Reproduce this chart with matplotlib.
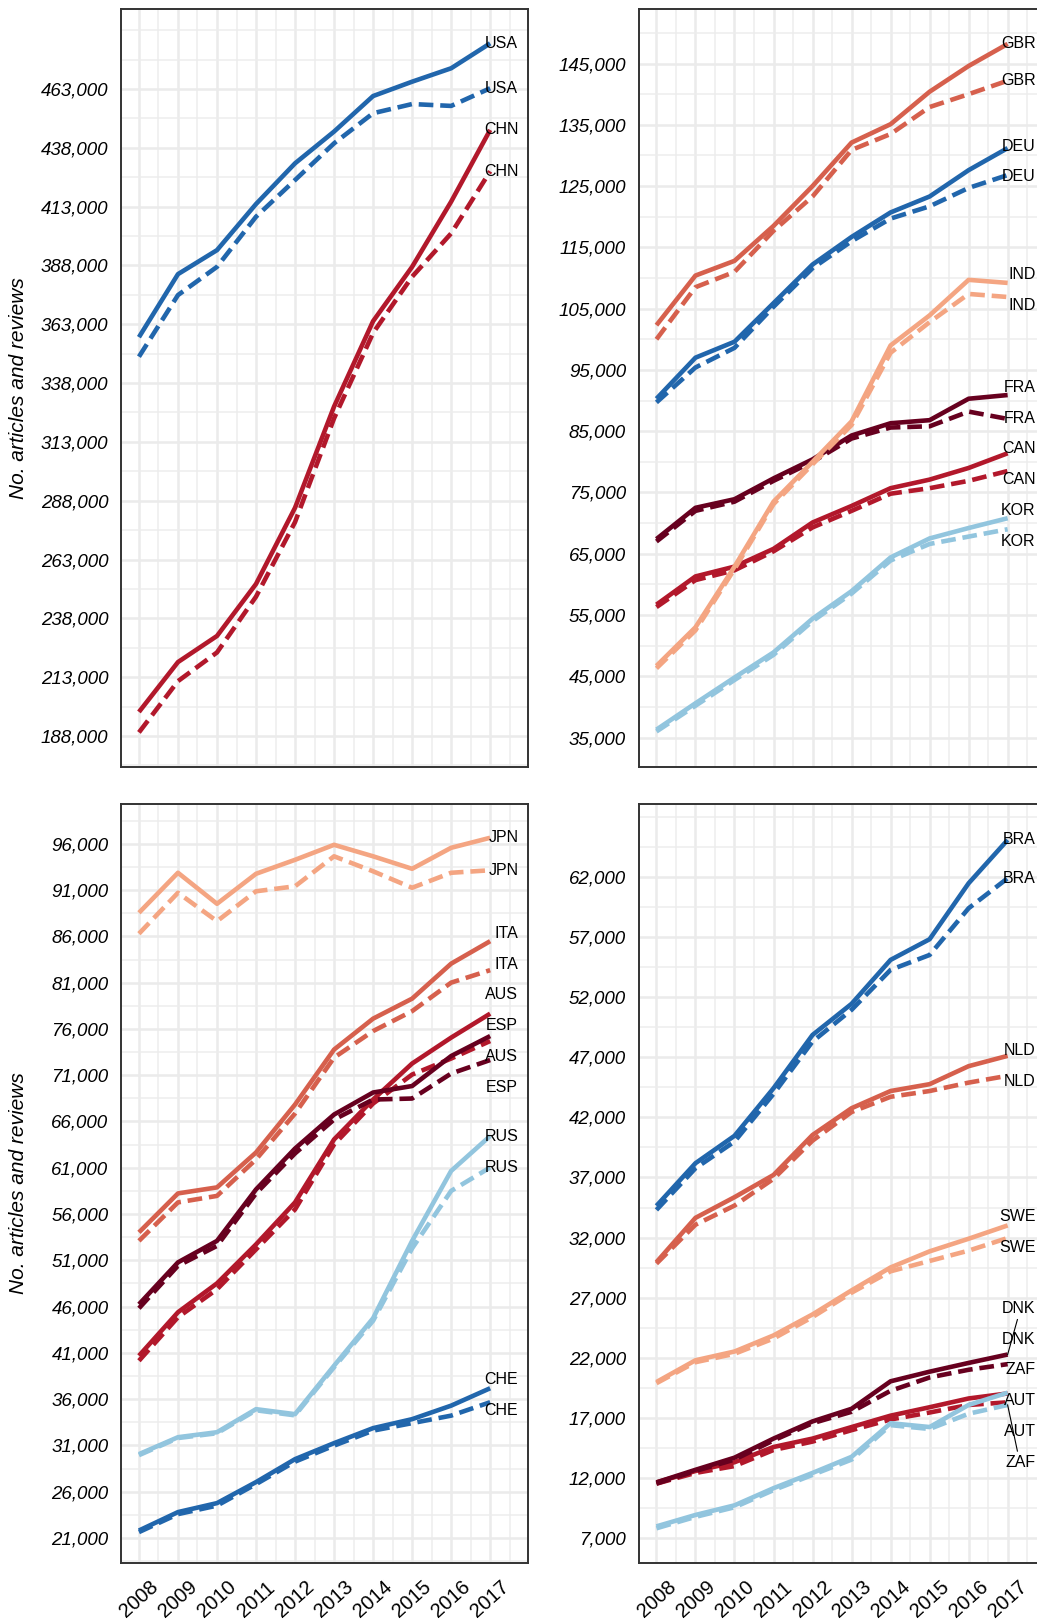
import numpy as np
import matplotlib.pyplot as plt
from matplotlib.ticker import FixedLocator, FuncFormatter

plt.rcParams['font.family'] = ['Liberation Sans', 'DejaVu Sans']

years = np.arange(2008, 2018)

# ---- data: solid = first series, dashed = second series ----
tl_solid = {
    'CHN': [198200, 219400, 230500, 252600, 285000, 328000, 364300, 387400, 415100, 445600],
    'USA': [357500, 384300, 394500, 414100, 431400, 444900, 460000, 466100, 471800, 482400],
}
tl_dashed = {
    'CHN': [189500, 211300, 223500, 247200, 278900, 323000, 359300, 383200, 401600, 428000],
    'USA': [349200, 375400, 387400, 408700, 424300, 439900, 452700, 456600, 455800, 463300],
}

tr_solid = {
    'CAN': [56700, 61300, 62900, 65800, 70100, 72800, 75700, 77100, 79000, 81400],
    'DEU': [90300, 97000, 99600, 105900, 112200, 116700, 120700, 123300, 127600, 131200],
    'FRA': [67400, 72500, 73900, 77300, 80400, 84300, 86300, 86800, 90300, 90900],
    'GBR': [102300, 110400, 112800, 118500, 125000, 132100, 135100, 140400, 144600, 148200],
    'IND': [46700, 53000, 62900, 73500, 80000, 86600, 99000, 103900, 109700, 109200],
    'KOR': [36300, 40600, 44800, 48900, 54400, 58900, 64400, 67500, 69200, 70800],
}
tr_dashed = {
    'CAN': [56300, 60700, 62300, 65400, 69300, 72000, 74800, 75700, 76900, 78500],
    'DEU': [89700, 95400, 98600, 105300, 111600, 116000, 119700, 121700, 124700, 126800],
    'FRA': [67000, 72000, 73500, 76900, 80000, 83800, 85600, 85800, 88200, 87000],
    'GBR': [100000, 108500, 111000, 117700, 123300, 130900, 133500, 137900, 140000, 142200],
    'IND': [46300, 52500, 62500, 73100, 79600, 86000, 97800, 102800, 107400, 106900],
    'KOR': [36000, 40200, 44400, 48500, 54000, 58500, 63900, 66600, 67800, 69000],
}

bl_solid = {
    'AUS': [40690, 45390, 48510, 52720, 57260, 64060, 68370, 72260, 75060, 77650],
    'CHE': [21810, 23800, 24770, 27040, 29520, 31250, 32870, 33840, 35300, 37180],
    'ESP': [46250, 50780, 53100, 58660, 63080, 66750, 69130, 69830, 73070, 75230],
    'ITA': [54020, 58230, 58880, 62650, 67830, 73770, 77110, 79270, 83050, 85480],
    'JPN': [88550, 92870, 89520, 92760, 94270, 95890, 94650, 93300, 95570, 96650],
    'RUS': [30060, 31890, 32430, 34920, 34380, 39610, 44740, 53100, 60660, 64430],
}
bl_dashed = {
    'AUS': [40150, 44850, 47870, 52180, 56500, 63520, 67940, 71070, 72800, 74690],
    'CHE': [21640, 23580, 24500, 26820, 29250, 30980, 32600, 33410, 34220, 35670],
    'ESP': [45820, 50410, 52560, 58230, 62550, 66210, 68370, 68480, 71180, 72640],
    'ITA': [53100, 57260, 57960, 61900, 66860, 72900, 75770, 77920, 81000, 82350],
    'JPN': [86290, 90710, 87640, 90870, 91410, 94650, 93030, 91250, 92870, 93140],
    'RUS': [29950, 31800, 32320, 34800, 34250, 39450, 44470, 52290, 58500, 61030],
}

br_solid = {
    'AUT': [11610, 12560, 13290, 14560, 15260, 16220, 17170, 17870, 18600, 19020],
    'BRA': [34640, 38190, 40470, 44430, 48870, 51460, 55120, 56840, 61500, 65110],
    'DNK': [11610, 12660, 13670, 15260, 16690, 17740, 20030, 20830, 21560, 22260],
    'NLD': [29950, 33640, 35360, 37210, 40540, 42770, 44200, 44770, 46270, 47130],
    'SWE': [19970, 21780, 22510, 23850, 25600, 27600, 29510, 30850, 31900, 33010],
    'ZAF': [7950, 8900, 9700, 11130, 12400, 13740, 16540, 16220, 18060, 19080],
}
br_dashed = {
    'AUT': [11510, 12400, 12970, 14310, 15010, 15960, 16850, 17430, 18060, 18280],
    'BRA': [34300, 37770, 39990, 43960, 48320, 50960, 54290, 55530, 59420, 61920],
    'DNK': [11510, 12560, 13510, 15110, 16540, 17490, 19240, 20350, 20990, 21460],
    'NLD': [29830, 33070, 34660, 36890, 40070, 42450, 43720, 44200, 44900, 45470],
    'SWE': [19870, 21620, 22320, 23590, 25380, 27410, 29190, 30050, 30910, 31960],
    'ZAF': [7790, 8740, 9540, 10970, 12240, 13510, 16380, 16060, 17330, 18060],
}

tl_ticks = np.arange(188000, 463001, 25000)
tr_ticks = np.arange(35000, 145001, 10000)
bl_ticks = np.arange(21000, 96001, 5000)
br_ticks = np.arange(7000, 62001, 5000)

colors = {
    'USA': '#2166ac', 'CHN': '#b2182b',
    'GBR': '#d6604d', 'DEU': '#2166ac', 'IND': '#f4a582',
    'FRA': '#67001f', 'CAN': '#b2182b', 'KOR': '#92c5de',
    'JPN': '#f4a582', 'ITA': '#d6604d', 'AUS': '#b2182b',
    'ESP': '#67001f', 'RUS': '#92c5de', 'CHE': '#2166ac',
    'BRA': '#2166ac', 'NLD': '#d6604d', 'SWE': '#f4a582',
    'DNK': '#67001f', 'AUT': '#b2182b', 'ZAF': '#92c5de',
}

W, H = 1037, 1621
fig = plt.figure(figsize=(W / 100, H / 100), dpi=100)


def px_axes(x0, y0, w, h):
    return fig.add_axes([x0 / W, 1 - (y0 + h) / H, w / W, h / H])


def spread(y, gap):
    # push label positions apart, keeping each cluster centred on its points
    order = list(np.argsort(y))
    clusters = [[i] for i in order]

    def place(c):
        m = np.mean([y[i] for i in c])
        return [m + (k - (len(c) - 1) / 2) * gap for k in range(len(c))]

    merged = True
    while merged:
        merged = False
        for j in range(len(clusters) - 1):
            a, b = place(clusters[j]), place(clusters[j + 1])
            if b[0] - a[-1] < gap - 1e-9:
                clusters[j] = clusters[j] + clusters[j + 1]
                del clusters[j + 1]
                merged = True
                break
    out = np.zeros(len(y))
    for c in clusters:
        for i, p in zip(c, place(c)):
            out[i] = p
    return out


def panel(ax, solid, dashed, ticks, ylim, bottom_labels):
    step = ticks[1] - ticks[0]
    ax.set_xlim(2007.54, 2017.97)
    ax.set_ylim(*ylim)
    ax.xaxis.set_major_locator(FixedLocator(years))
    ax.xaxis.set_minor_locator(FixedLocator(np.arange(2007.5, 2018, 1.0)))
    ax.yaxis.set_major_locator(FixedLocator(ticks))
    ax.yaxis.set_minor_locator(FixedLocator(
        np.arange(ticks[0] - step, ticks[-1] + step + 1, step / 2)))
    ax.yaxis.set_major_formatter(FuncFormatter(lambda v, p: f'{v:,.0f}'))
    ax.grid(which='major', color='#ebebeb', lw=1.8)
    ax.grid(which='minor', color='#ededed', lw=1.1)
    ax.set_axisbelow(True)
    ax.tick_params(which='both', length=0)
    ax.tick_params(axis='y', pad=9, labelsize=13.5)
    for t in ax.get_yticklabels():
        t.set_fontstyle('italic')
    for s in ax.spines.values():
        s.set_color('#333333')
        s.set_linewidth(1.4)
    if bottom_labels:
        ax.tick_params(axis='x', pad=26, labelsize=14.5)
        for t in ax.get_xticklabels():
            t.set_rotation(42)
            t.set_ha('center')
            t.set_va('center')
    else:
        ax.tick_params(axis='x', labelbottom=False)

    for c in solid:
        ax.plot(years, solid[c], color=colors[c], lw=3.3, solid_capstyle='butt')
        ax.plot(years, dashed[c], color=colors[c], lw=3.3,
                dashes=(3.2, 1.5), dash_capstyle='butt')

    # country labels at the line ends
    names, ends = [], []
    for c in solid:
        names += [c, c]
        ends += [solid[c][-1], dashed[c][-1]]
    to_px = ax.transData
    y_px = np.array([to_px.transform((2017, v))[1] for v in ends])
    lab_px = spread(y_px, 30.7)
    inv = ax.transData.inverted()
    for name, v, yp, lp in zip(names, ends, y_px, lab_px):
        ly = inv.transform((0, lp))[1]
        ax.text(2017.72, ly, name, ha='right', va='center', fontsize=11.5,
                color='black')
        if abs(lp - yp) > 38:
            tip = lp + (11 if lp < yp else -11)
            ax.plot([2017, 2017.25], [v, inv.transform((0, tip))[1]],
                    color='black', lw=0.8)


ax_tl = px_axes(121, 9, 407, 758)
ax_tr = px_axes(638.5, 9, 407, 758)
ax_bl = px_axes(121, 804, 407, 759)
ax_br = px_axes(638.5, 804, 407, 759)

panel(ax_tl, tl_solid, tl_dashed, tl_ticks, (174800, 497000), False)
panel(ax_tr, tr_solid, tr_dashed, tr_ticks, (30200, 153900), False)
panel(ax_bl, bl_solid, bl_dashed, bl_ticks, (18300, 100300), True)
panel(ax_br, br_solid, br_dashed, br_ticks, (4900, 68100), True)

for yc in (388, 1183):
    fig.text(19 / W, 1 - yc / H, 'No. articles and reviews', rotation=90,
             ha='center', va='center', fontsize=15, fontstyle='italic')

fig.savefig('out.png', dpi=100)
